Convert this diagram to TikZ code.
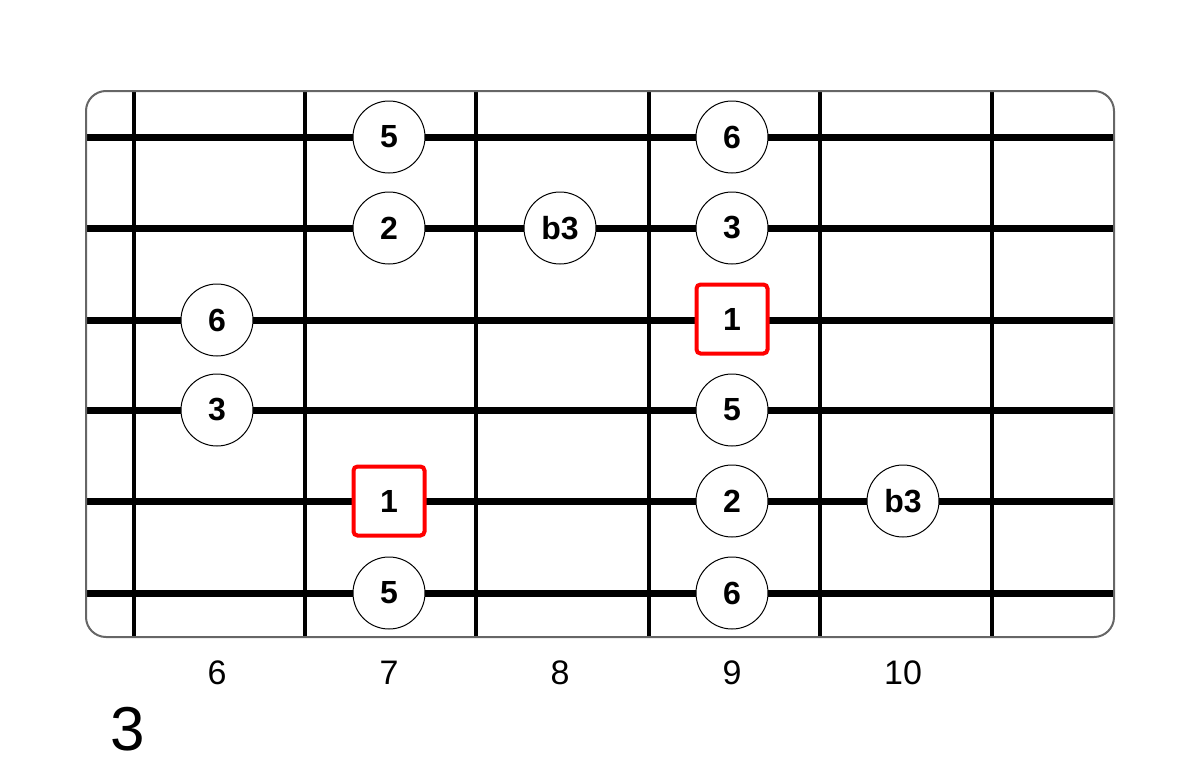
\documentclass[tikz,border=0pt]{standalone}
\usepackage{fontspec}
\setmainfont{Liberation Sans}
\begin{document}
\begin{tikzpicture}[x=1pt,y=-1pt,
  fret/.style={line width=3.5pt,black},
  gstring/.style={line width=7pt,black},
  frame/.style={draw=black!60,line width=2pt,rounded corners=20pt},
  note/.style={circle,draw=black,line width=1pt,fill=white,minimum size=72pt,inner sep=0pt,font=\fontsize{32}{34}\selectfont\bfseries},
  root/.style={rectangle,draw=red,line width=4pt,fill=white,rounded corners=4pt,minimum width=71pt,minimum height=69pt,inner sep=0pt,font=\fontsize{32}{34}\selectfont\bfseries},
  fretnum/.style={font=\fontsize{34}{36}\selectfont,inner sep=0pt},
  bigtitle/.style={font=\fontsize{62}{64}\selectfont,inner sep=0pt}]
\useasboundingbox (0,0) rectangle (1200,774);
% frets
\foreach \x [count=\i] in {134,305,476,649,820,992}{
  \coordinate (ft\i) at (\x,91);
  \coordinate (fb\i) at (\x,637);
  \draw[fret] (ft\i) -- (fb\i);
}
% strings
\foreach \y [count=\i] in {137,228,320,410,501,593}{
  \coordinate (sl\i) at (86,\y);
  \coordinate (sr\i) at (1114,\y);
  \draw[gstring] (sl\i) -- (sr\i);
}
% frame
\draw[frame] (86,91) rectangle (1114,637);
% notes
\node[note] (n1) at (389,137) {5};
\node[note] (n2) at (732,137) {6};
\node[note] (n3) at (389,228) {2};
\node[note] (n4) at (560,228) {b3};
\node[note] (n5) at (732,228) {3};
\node[root] (r1) at (732,319) {1};
\node[note] (n6) at (217,320) {6};
\node[note] (n7) at (217,410) {3};
\node[note] (n8) at (732,410) {5};
\node[root] (r2) at (389,501) {1};
\node[note] (n9) at (732,501) {2};
\node[note] (n10) at (903,501) {b3};
\node[note] (n11) at (389,593) {5};
\node[note] (n12) at (732,593) {6};
% fret numbers
\node[fretnum] (l6) at (217,673) {6};
\node[fretnum] (l7) at (389,673) {7};
\node[fretnum] (l8) at (560,673) {8};
\node[fretnum] (l9) at (732,673) {9};
\node[fretnum] (l10) at (903,673) {10};
\node[bigtitle] (t) at (128,729) {3};
\end{tikzpicture}
\end{document}
